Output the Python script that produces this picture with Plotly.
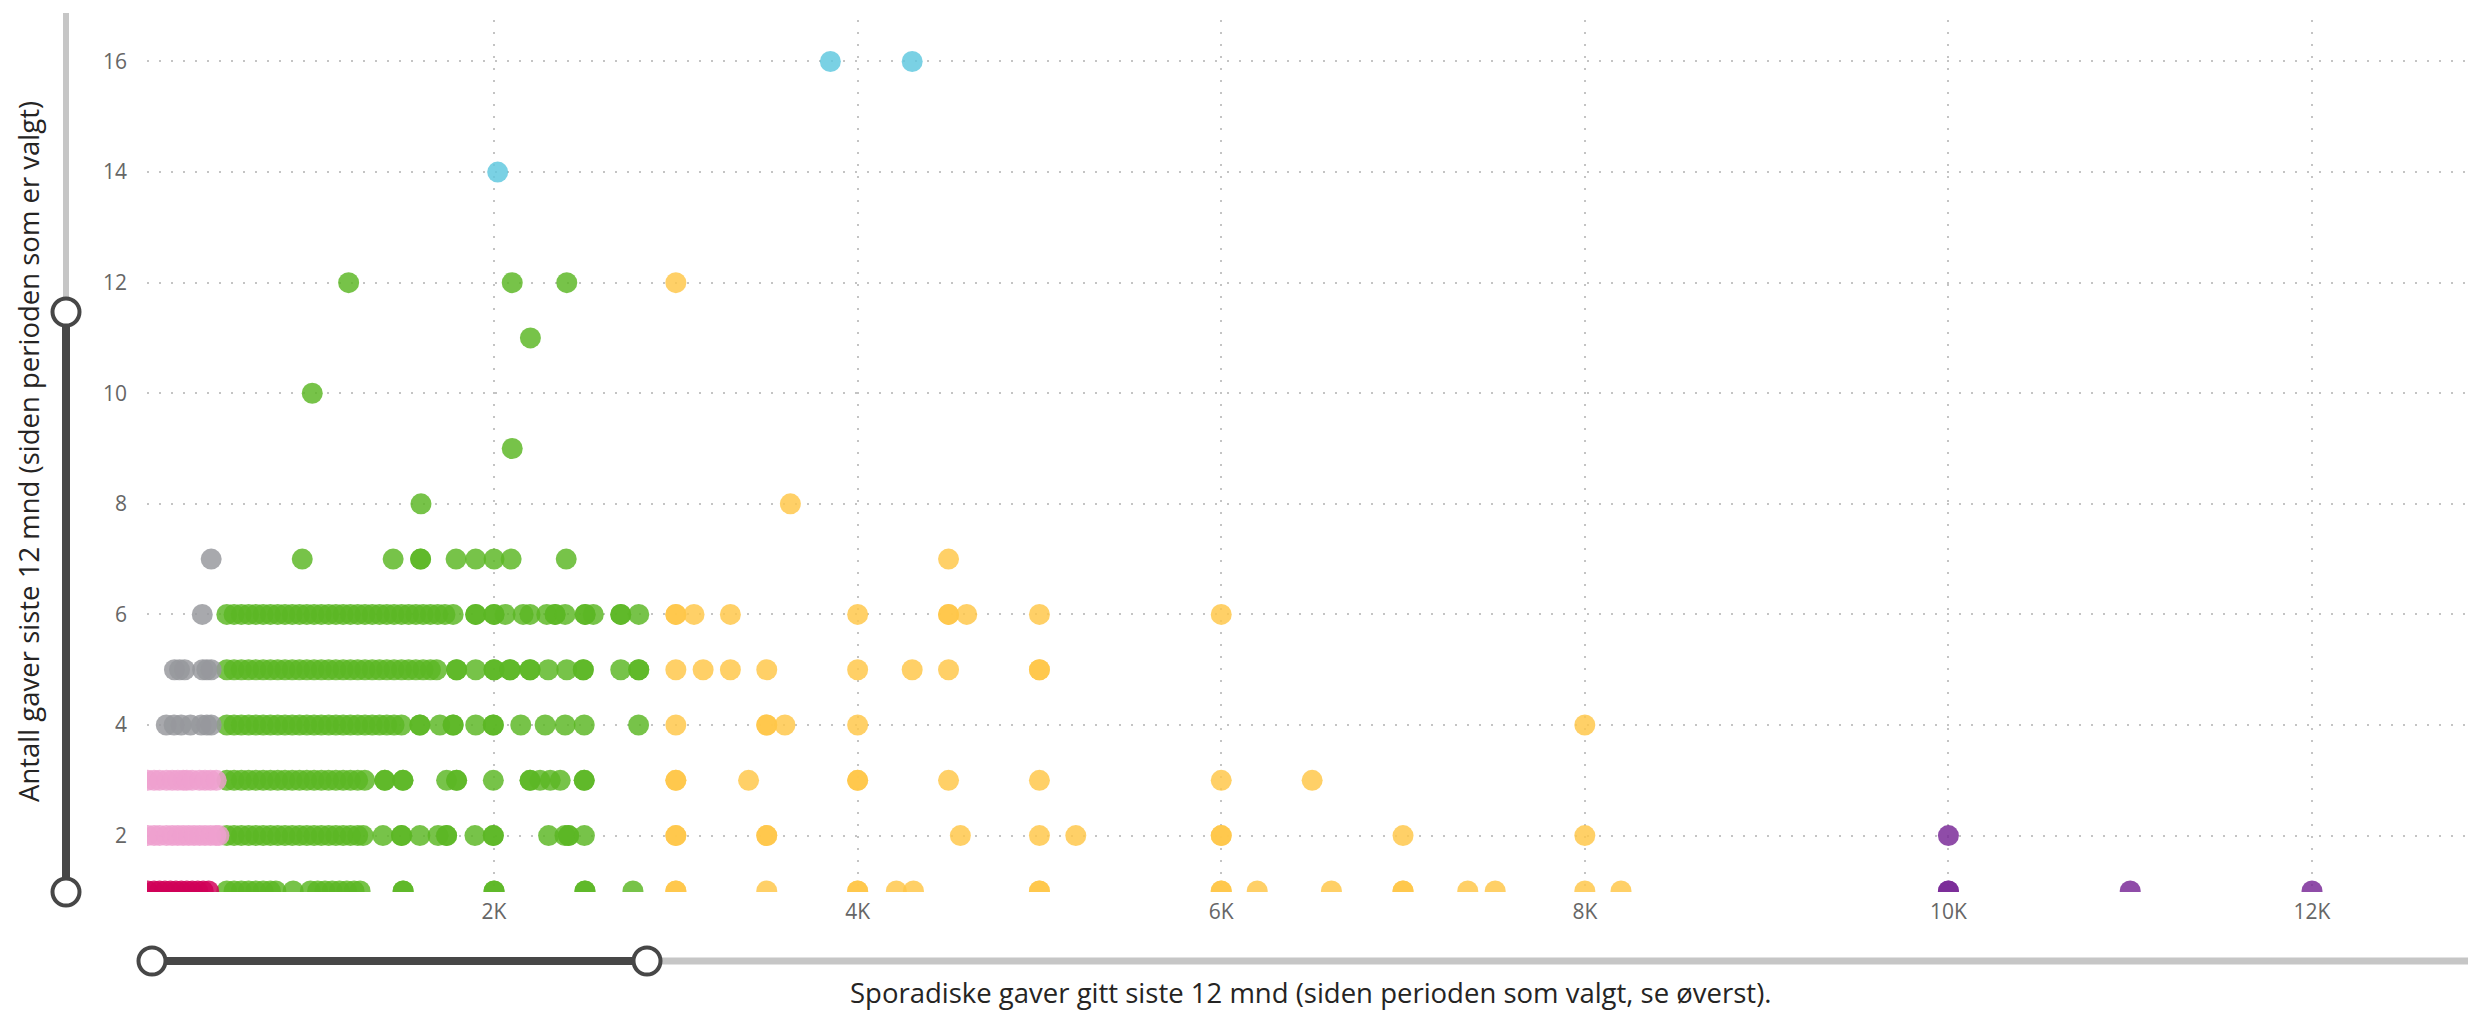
import plotly.graph_objects as go

# ---------------- data ----------------
# Green segment: x values per y-row (duplicates = overlapping donors)
green_x_1 = [530, 570, 610, 650, 690, 730, 770, 800, 895, 990, 1030, 1070, 1110, 1150,
             1190, 1230, 1263, 1500, 1500, 2000, 2000, 2500, 2500, 2764]
green_x_2 = [530, 570, 610, 650, 690, 730, 770, 810, 850, 890, 930, 970, 1010, 1050, 1090,
             1130, 1170, 1210, 1250, 1280, 1389, 1491, 1491, 1592, 1692, 1739, 1739, 1895,
             1996, 1996, 2300, 2390, 2410, 2410, 2497]
green_x_3 = [530, 570, 610, 650, 690, 730, 770, 810, 850, 890, 930, 970, 1010, 1050, 1090,
             1130, 1170, 1210, 1250, 1289, 1399, 1399, 1499, 1499, 1739, 1794, 1794, 1996,
             2198, 2198, 2253, 2309, 2364, 2496, 2496]
green_x_4 = [530, 570, 610, 650, 690, 730, 770, 810, 850, 890, 930, 970, 1010, 1050, 1090,
             1130, 1170, 1210, 1250, 1290, 1330, 1370, 1410, 1450, 1491, 1592, 1592, 1702,
             1775, 1775, 1899, 1996, 1996, 2147, 2281, 2391, 2496, 2795]
green_x_5 = [530, 570, 610, 650, 690, 730, 770, 810, 850, 890, 930, 970, 1010, 1050, 1090,
             1130, 1170, 1210, 1250, 1290, 1330, 1370, 1410, 1450, 1491, 1530, 1570, 1610,
             1650, 1684, 1794, 1794, 1899, 2000, 2000, 2088, 2088, 2198, 2198, 2298, 2400,
             2491, 2491, 2697, 2796, 2796]
green_x_6 = [530, 570, 610, 650, 690, 730, 770, 810, 850, 890, 930, 970, 1010, 1050, 1090,
             1130, 1170, 1210, 1250, 1290, 1330, 1370, 1410, 1450, 1491, 1530, 1570, 1610,
             1650, 1690, 1730, 1775, 1899, 1899, 2000, 2000, 2061, 2160, 2198, 2290, 2336,
             2336, 2391, 2501, 2501, 2546, 2697, 2697, 2796]
green_x_7 = [945, 1445, 1596, 1596, 1791, 1899, 2000, 2094, 2397]
green_x_8 = [1598]
green_x_9 = [2100]
green_x_10 = [1000]
green_x_11 = [2200]
green_x_12 = [1200, 2100, 2400]

# Yellow segment
yellow_x_1 = [3000, 3000, 3500, 4000, 4000, 4213, 4307, 5000, 5000, 6000, 6000, 6198,
              6606, 7000, 7000, 7356, 7507, 8000, 8199]
yellow_x_2 = [3000, 3000, 3500, 3500, 4565, 5000, 5200, 6000, 6000, 7000, 8000]
yellow_x_3 = [3000, 3000, 3400, 4000, 4000, 4500, 5000, 6000, 6500]
yellow_x_4 = [3000, 3500, 3500, 3600, 4000, 8000]
yellow_x_5 = [3000, 3150, 3300, 3500, 4000, 4300, 4500, 5000, 5000]
yellow_x_6 = [3000, 3000, 3100, 3300, 4000, 4500, 4500, 4600, 5000, 6000]
yellow_x_7 = [4500]
yellow_x_8 = [3630]
yellow_x_12 = [3000]

# Gray segment
gray_x_4 = [197, 240, 279, 330, 389, 420, 444]
gray_x_5 = [242, 270, 298, 397, 420, 444]
gray_x_6 = [395]
gray_x_7 = [444]

# Pink segment
pink_x_2 = [95, 130, 160, 198, 230, 260, 290, 320, 350, 380, 410, 440, 470, 487]
pink_x_3 = [95, 130, 160, 198, 230, 260, 290, 310, 340, 380, 410, 440, 472]

# Red segment
red_x_1 = [95, 130, 160, 190, 220, 250, 280, 310, 340, 370, 400, 430]

# Blue and purple segments
blue_x = [2020, 3850, 4300]
blue_y = [14, 16, 16]
purple_x = [10000, 10000, 11000, 12000, 10000]
purple_y = [1, 1, 1, 1, 2]

x_tick_vals = [2000, 4000, 6000, 8000, 10000, 12000]
x_tick_text = ["2K", "4K", "6K", "8K", "10K", "12K"]
y_tick_vals = [2, 4, 6, 8, 10, 12, 14, 16]

x_title = "Sporadiske gaver gitt siste 12 mnd (siden perioden som valgt, se øverst)."
y_title = "Antall gaver siste 12 mnd (siden perioden som er valgt)"


def rows(pairs):
    xs, ys = [], []
    for yv, xl in pairs:
        xs += xl
        ys += [yv] * len(xl)
    return xs, ys


green_x, green_y = rows([(1, green_x_1), (2, green_x_2), (3, green_x_3), (4, green_x_4),
                         (5, green_x_5), (6, green_x_6), (7, green_x_7), (8, green_x_8),
                         (9, green_x_9), (10, green_x_10), (11, green_x_11), (12, green_x_12)])
yellow_x, yellow_y = rows([(1, yellow_x_1), (2, yellow_x_2), (3, yellow_x_3), (4, yellow_x_4),
                           (5, yellow_x_5), (6, yellow_x_6), (7, yellow_x_7), (8, yellow_x_8),
                           (12, yellow_x_12)])
gray_x, gray_y = rows([(4, gray_x_4), (5, gray_x_5), (6, gray_x_6), (7, gray_x_7)])
pink_x, pink_y = rows([(2, pink_x_2), (3, pink_x_3)])
red_x, red_y = rows([(1, red_x_1)])

# ---------------- figure ----------------
W, H = 2468, 1013
PL, PT, PW, PH = 147, 20, 2321, 872

fig = go.Figure()
OP = 0.83
MS = 21
series = [
    (green_x, green_y, "rgb(92,183,36)"),
    (yellow_x, yellow_y, "rgb(255,198,72)"),
    (gray_x, gray_y, "rgb(150,152,156)"),
    (pink_x, pink_y, "rgb(238,160,207)"),
    (red_x, red_y, "rgb(208,0,88)"),
    (blue_x, blue_y, "rgb(95,200,222)"),
    (purple_x, purple_y, "rgb(120,40,150)"),
]
for xs, ys, col in series:
    fig.add_trace(go.Scatter(x=xs, y=ys, mode="markers",
                             marker=dict(size=MS, color=col, opacity=OP, line=dict(width=0)),
                             showlegend=False, cliponaxis=True, hoverinfo="x+y"))

grid = dict(showgrid=True, gridcolor="#C4C4C4", gridwidth=2, griddash="2px,10px",
            zeroline=False, showline=False, ticks="")

fig.update_layout(
    width=W, height=H,
    margin=dict(l=PL, r=W - PL - PW, t=PT, b=H - PT - PH, pad=0),
    paper_bgcolor="white", plot_bgcolor="white",
    font=dict(family="Open Sans, sans-serif", color="#666666", size=21),
    xaxis=dict(range=[91, 12858], tickvals=x_tick_vals, ticktext=x_tick_text,
               ticklabelstandoff=5, **grid),
    yaxis=dict(range=[0.98, 16.75], tickvals=y_tick_vals, ticklabelstandoff=19, **grid),
    showlegend=False,
)


def px_x(p):
    return (p - PL) / PW


def px_y(p):
    return (PT + PH - p) / PH


DARK = "#474747"
LIGHT = "#C6C6C6"
shapes = []


def line(x0, y0, x1, y1, col, w):
    shapes.append(dict(type="line", xref="paper", yref="paper",
                       x0=px_x(x0), y0=px_y(y0), x1=px_x(x1), y1=px_y(y1),
                       line=dict(color=col, width=w), layer="above"))


def knob(cx, cy, r=13.5):
    shapes.append(dict(type="circle", xref="paper", yref="paper",
                       x0=px_x(cx - r), x1=px_x(cx + r), y0=px_y(cy + r), y1=px_y(cy - r),
                       fillcolor="white", line=dict(color=DARK, width=4), layer="above"))


# vertical zoom slider (y)
line(66, 13, 66, 312, LIGHT, 6)
line(66, 312, 66, 892, DARK, 8)
knob(66, 312)
knob(66, 892)
# horizontal zoom slider (x)
line(647, 961, W + 5, 961, LIGHT, 7)
line(152, 961, 647, 961, DARK, 8)
knob(152, 961)
knob(647, 961)

fig.update_layout(shapes=shapes)

fig.add_annotation(text=y_title, xref="paper", yref="paper", x=px_x(28), y=px_y(452),
                   xanchor="center", yanchor="middle", textangle=-90, showarrow=False,
                   font=dict(family="Open Sans, sans-serif", size=27.5, color="#252423"))
fig.add_annotation(text=x_title, xref="paper", yref="paper", x=px_x(1311), y=px_y(1012),
                   xanchor="center", yanchor="bottom", showarrow=False, borderpad=0,
                   font=dict(family="Open Sans, sans-serif", size=27.5, color="#252423"))

fig.write_html("out.html", config={"displayModeBar": False},
               post_script="document.body.style.margin='0';document.body.style.overflow='hidden';")
